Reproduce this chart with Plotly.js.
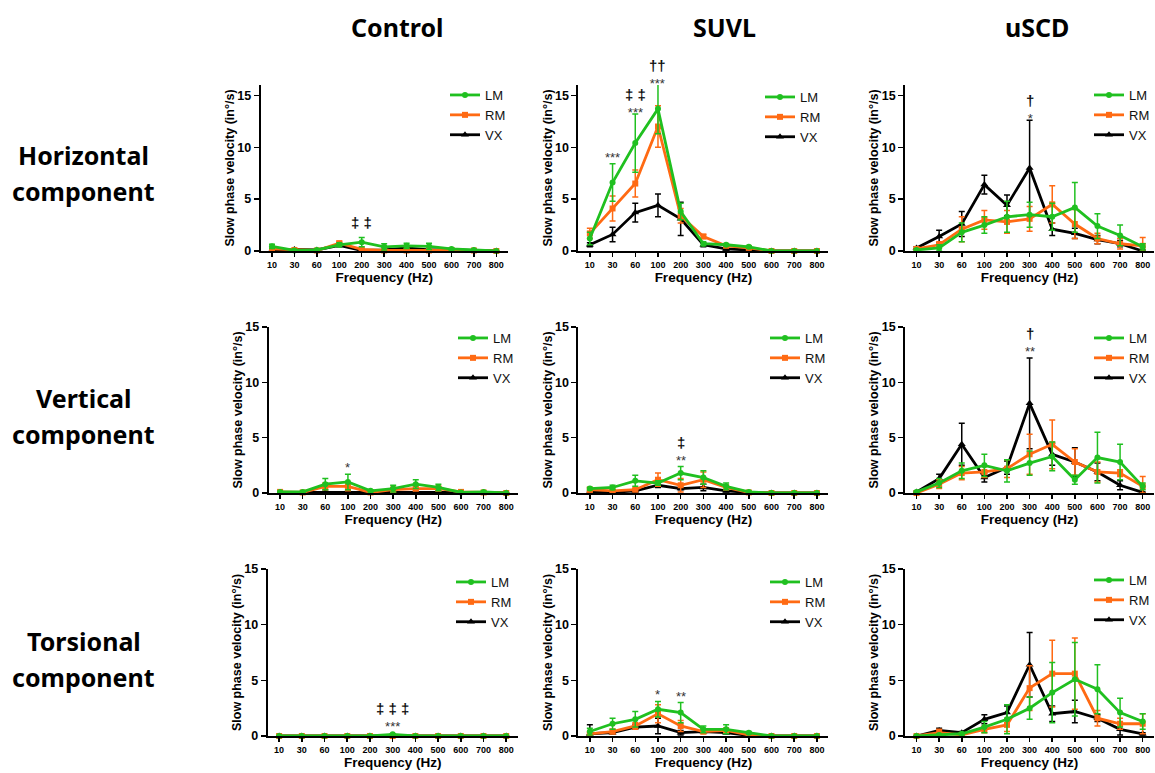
<!DOCTYPE html>
<html>
<head>
<meta charset="utf-8">
<script src="https://cdn.plot.ly/plotly-3.0.1.min.js"></script>
<style>html,body{margin:0;padding:0;background:#fff;} #chart{width:1155px;height:773px;}</style>
</head>
<body>
<div id="chart"></div>
<script>
// ---------------- DATA ----------------
const categories = ['10','30','60','100','200','300','400','500','600','700','800'];
const seriesNames = ['LM','RM','VX'];
const columnTitles = ['Control','SUVL','uSCD'];
const rowTitles = [['Horizontal','component'],['Vertical','component'],['Torsional','component']];

// Control – horizontal
const ctrlH_LM     = [0.45,0.05,0.1,0.6,0.85,0.4,0.5,0.45,0.2,0.1,0.0];
const ctrlH_LM_err = [0.2,0.05,0.1,0.2,0.45,0.3,0.25,0.3,0.1,0.05,0.0];
const ctrlH_RM     = [0.2,0.1,0.05,0.75,0.15,0.05,0.05,0.05,0.1,0.05,0.0];
const ctrlH_RM_err = [0.1,0.05,0.05,0.2,0.1,0.05,0.05,0.05,0.05,0.05,0.0];
const ctrlH_VX     = [0.1,0.15,0.1,0.55,0.05,0.1,0.3,0.1,0.1,0.05,0.0];
const ctrlH_VX_err = [0.05,0.05,0.05,0.15,0.05,0.05,0.1,0.05,0.05,0.05,0.0];
// SUVL – horizontal
const suvlH_LM     = [1.2,6.6,10.4,13.7,3.8,0.7,0.6,0.4,0,0,0];
const suvlH_LM_err = [0.6,1.8,2.8,2.4,0.8,0.2,0.1,0.1,0,0,0];
const suvlH_RM     = [1.7,4.1,6.5,12.0,3.4,1.4,0.5,0.3,0,0,0];
const suvlH_RM_err = [0.5,1.2,1.3,2.0,0.7,0.2,0.1,0.1,0,0,0];
const suvlH_VX     = [0.6,1.6,3.7,4.4,3.1,0.6,0.2,0.1,0,0,0];
const suvlH_VX_err = [0.2,0.7,0.9,1.1,1.6,0.2,0.1,0.05,0,0,0];
// uSCD – horizontal
const uscdH_LM     = [0.1,0.3,1.8,2.5,3.3,3.5,3.3,4.2,2.4,1.5,0.4];
const uscdH_LM_err = [0.1,0.3,0.9,0.8,1.5,1.2,1.3,2.4,1.2,1.0,0.3];
const uscdH_RM     = [0.2,0.6,2.1,3.0,2.8,3.1,4.5,2.6,1.2,0.7,0.5];
const uscdH_RM_err = [0.1,0.3,1.2,0.9,1.1,1.2,1.8,1.4,0.5,0.5,0.8];
const uscdH_VX     = [0.3,1.4,2.6,6.4,4.4,8.0,2.1,1.7,1.1,0.7,0.0];
const uscdH_VX_err = [0.1,0.6,1.2,0.9,1.0,4.6,0.6,0.5,0.4,0.3,0.1];
// Control – vertical
const ctrlV_LM     = [0.1,0.1,0.8,1.0,0.2,0.4,0.8,0.5,0.05,0.1,0];
const ctrlV_LM_err = [0.05,0.05,0.5,0.7,0.1,0.3,0.4,0.3,0.05,0.05,0];
const ctrlV_RM     = [0.1,0.05,0.6,0.6,0.05,0.3,0.4,0.4,0.1,0.05,0];
const ctrlV_RM_err = [0.05,0.05,0.3,0.4,0.05,0.2,0.2,0.2,0.05,0.05,0];
const ctrlV_VX     = [0.05,0.05,0.05,0.1,0.05,0.05,0.05,0.05,0.05,0.05,0];
const ctrlV_VX_err = [0.05,0.05,0.1,0.1,0.05,0.05,0.05,0.05,0.05,0.05,0];
// SUVL – vertical
const suvlV_LM     = [0.4,0.5,1.1,0.9,1.8,1.4,0.6,0.1,0,0,0];
const suvlV_LM_err = [0.1,0.2,0.5,0.2,0.6,0.6,0.3,0.05,0,0,0];
const suvlV_RM     = [0.3,0.2,0.3,1.2,0.7,1.2,0.5,0.05,0,0,0];
const suvlV_RM_err = [0.2,0.1,0.1,0.6,0.6,0.7,0.2,0.05,0,0,0];
const suvlV_VX     = [0.1,0.05,0.2,0.7,0.4,0.5,0.2,0.05,0,0,0];
const suvlV_VX_err = [0.05,0.05,0.1,0.2,0.1,0.3,0.1,0.05,0,0,0];
// uSCD – vertical
const uscdV_LM     = [0.1,0.9,2.0,2.5,2.0,2.7,3.3,1.2,3.2,2.8,0.6];
const uscdV_LM_err = [0.05,0.4,0.7,1.0,1.0,1.1,1.3,0.4,2.3,1.6,0.3];
const uscdV_RM     = [0.0,0.8,1.8,1.9,2.2,3.5,4.4,2.8,1.9,1.8,0.6];
const uscdV_RM_err = [0.05,0.4,0.6,0.5,0.8,1.8,2.2,1.2,0.9,0.3,0.9];
const uscdV_VX     = [0.1,1.3,4.4,1.4,2.3,8.1,3.5,2.8,1.9,0.7,0.05];
const uscdV_VX_err = [0.05,0.4,1.9,0.4,0.6,4.1,1.0,1.3,0.8,0.4,0.05];
// Control – torsional
const ctrlT_LM     = [0,0,0,0,0,0.15,0,0,0,0,0];
const ctrlT_LM_err = [0,0,0,0,0,0.05,0,0,0,0,0];
const ctrlT_RM     = [0,0,0,0,0,0,0,0,0,0,0];
const ctrlT_RM_err = [0,0,0,0,0,0,0,0,0,0,0];
const ctrlT_VX     = [0,0,0,0,0,0,0,0,0,0,0];
const ctrlT_VX_err = [0,0,0,0,0,0,0,0,0,0,0];
// SUVL – torsional
const suvlT_LM     = [0.4,1.1,1.5,2.4,2.1,0.6,0.6,0.3,0,0,0];
const suvlT_LM_err = [0.3,0.5,0.7,0.7,0.9,0.3,0.4,0.1,0,0,0];
const suvlT_RM     = [0.2,0.4,0.9,2.0,0.9,0.4,0.5,0.1,0,0,0];
const suvlT_RM_err = [0.1,0.2,0.3,0.8,0.5,0.2,0.2,0.05,0,0,0];
const suvlT_VX     = [0.2,0.3,0.8,0.9,0.3,0.4,0.3,0.05,0,0,0];
const suvlT_VX_err = [0.8,0.1,0.2,0.7,0.2,0.1,0.1,0.05,0,0,0];
// uSCD – torsional
const uscdT_LM     = [0,0.1,0.2,0.8,1.5,2.5,3.9,5.1,4.2,2.1,1.3];
const uscdT_LM_err = [0.05,0.1,0.1,0.5,1.3,1.0,2.7,3.3,2.2,1.3,0.7];
const uscdT_RM     = [0,0.3,0.1,0.6,1.0,4.3,5.6,5.6,1.6,1.1,1.1];
const uscdT_RM_err = [0.05,0.3,0.1,0.3,0.6,2.0,3.0,3.2,0.7,0.5,0.9];
const uscdT_VX     = [0,0.5,0.3,1.5,2.1,6.4,2.0,2.2,1.6,0.6,0.2];
const uscdT_VX_err = [0.05,0.2,0.1,0.4,0.6,2.9,0.7,1.0,0.3,0.5,0.1];

// significance labels: panel index, category, y value (centre of label), dagger marks, star marks
const sigPanel  = [0,1,1,1,2,3,4,5,6,7,7];
const sigCat    = ['200','30','60','100','300','100','200','300','300','100','200'];
const sigY      = [2.7,9.1,14.3,17.1,13.7,2.35,3.8,13.6,1.7,3.8,3.6];
const sigDagger = ['‡ ‡','','‡ ‡','††','†','','‡','†','‡ ‡ ‡','',''];
const sigStars  = ['','***','***','***','*','*','**','**','***','*','**'];

// ---------------- LAYOUT CONFIG ----------------
const W = 1155, H = 773;
const panelData = [
  [ctrlH_LM,ctrlH_LM_err,ctrlH_RM,ctrlH_RM_err,ctrlH_VX,ctrlH_VX_err],
  [suvlH_LM,suvlH_LM_err,suvlH_RM,suvlH_RM_err,suvlH_VX,suvlH_VX_err],
  [uscdH_LM,uscdH_LM_err,uscdH_RM,uscdH_RM_err,uscdH_VX,uscdH_VX_err],
  [ctrlV_LM,ctrlV_LM_err,ctrlV_RM,ctrlV_RM_err,ctrlV_VX,ctrlV_VX_err],
  [suvlV_LM,suvlV_LM_err,suvlV_RM,suvlV_RM_err,suvlV_VX,suvlV_VX_err],
  [uscdV_LM,uscdV_LM_err,uscdV_RM,uscdV_RM_err,uscdV_VX,uscdV_VX_err],
  [ctrlT_LM,ctrlT_LM_err,ctrlT_RM,ctrlT_RM_err,ctrlT_VX,ctrlT_VX_err],
  [suvlT_LM,suvlT_LM_err,suvlT_RM,suvlT_RM_err,suvlT_VX,suvlT_VX_err],
  [uscdT_LM,uscdT_LM_err,uscdT_RM,uscdT_RM_err,uscdT_VX,uscdT_VX_err]
];
// pixel boxes: [left, right, top, bottom, ymax, legendX, legendTop]
const boxes = [
  [261,508, 85,251,16, 445, 80],
  [579,829, 85,251,16, 760, 82],
  [906,1155,85,251,16, 1090,80],
  [269,518,327,493,15, 453,323],
  [579,829,327,493,15, 765,323],
  [906,1155,327,493,15,1090,323],
  [268,518,569,736,15, 451,567],
  [579,829,569,736,15, 765,567],
  [906,1155,569,736,15,1090,565]
];
const colors = {LM:'#20c020', RM:'#ff6a13', VX:'#000000'};
const symbols = {LM:'circle', RM:'square', VX:'triangle-up'};
const AX = 'Liberation Sans, Arial, sans-serif';
const TT = 'Noto Sans, sans-serif';

const traces = [];
const layout = {
  width: W, height: H,
  margin: {l:0, r:0, t:0, b:0},
  paper_bgcolor: '#fff', plot_bgcolor: 'rgba(0,0,0,0)',
  showlegend: true,
  annotations: []
};

boxes.forEach((b, i) => {
  const n = i + 1;
  const sfx = n === 1 ? '' : String(n);
  const [L, R, T, B, ymax, lx, ly] = b;
  layout['xaxis' + sfx] = {
    type: 'category', categoryorder: 'array', categoryarray: categories,
    domain: [L / W, R / W], range: [-0.5, 10.5], anchor: 'y' + sfx,
    showline: true, linecolor: '#000', linewidth: 2,
    ticks: 'outside', ticklen: 4, tickwidth: 1.5, tickcolor: '#000',
    showgrid: false, zeroline: false,
    tickfont: {family: AX, size: 9, weight: 'bold', color: '#000'},
    title: {text: 'Frequency (Hz)', standoff: 4, font: {family: AX, size: 13.5, weight: 'bold', color: '#000'}},
    fixedrange: true
  };
  layout['yaxis' + sfx] = {
    domain: [1 - B / H, 1 - T / H], range: [0, ymax], anchor: 'x' + sfx,
    tickvals: [0, 5, 10, 15],
    showline: true, linecolor: '#000', linewidth: 2,
    ticks: 'outside', ticklen: 5, tickwidth: 1.5, tickcolor: '#000',
    showgrid: false, zeroline: false,
    tickfont: {family: AX, size: 12.5, weight: 'bold', color: '#000'},
    title: {text: 'Slow phase velocity (in°/s)', standoff: 0, font: {family: AX, size: 12.5, weight: 'bold', color: '#000'}},
    fixedrange: true
  };
  const lg = 'legend' + sfx;
  layout[lg] = {
    x: lx / W, y: 1 - ly / H, xanchor: 'left', yanchor: 'top',
    traceorder: 'reversed', bgcolor: 'rgba(0,0,0,0)', borderwidth: 0,
    font: {family: AX, size: 13, color: '#111'}, tracegroupgap: 0, itemwidth: 30
  };
  const d = panelData[i];
  const series = {LM: [d[0], d[1]], RM: [d[2], d[3]], VX: [d[4], d[5]]};
  ['VX', 'RM', 'LM'].forEach(s => {
    const y = series[s][0], e = series[s][1];
    traces.push({
      type: 'scatter', mode: 'lines+markers', name: s,
      x: categories, y: y,
      xaxis: 'x' + sfx, yaxis: 'y' + sfx, legend: lg,
      cliponaxis: false,
      line: {color: colors[s], width: 2.8},
      marker: {symbol: symbols[s], size: s === 'VX' ? 7 : 6, color: colors[s]},
      error_y: {type: 'data', symmetric: false, array: e,
        arrayminus: e.map((v, k) => Math.min(v, y[k])),
        color: colors[s], thickness: 1.5, width: 3},
      hoverinfo: 'skip'
    });
  });
});

// significance annotations (category index on the category axis; values above the
// axis range are anchored at the range top and shifted up in pixels)
sigPanel.forEach((p, k) => {
  const n = p + 1;
  const sfx = n === 1 ? '' : String(n);
  const [L, R, T, B, ymax] = boxes[p];
  const pxPerUnit = (B - T) / ymax;
  const yv = Math.min(sigY[k], ymax * 0.98);
  const parts = [];
  if (sigDagger[k]) parts.push('<span style="font-size:15px"><b>' + sigDagger[k] + '</b></span>');
  if (sigStars[k]) parts.push('<span style="color:#333333">' + sigStars[k] + '</span>');
  layout.annotations.push({
    xref: 'x' + sfx, yref: 'y' + sfx, x: categories.indexOf(sigCat[k]), y: yv,
    yshift: (sigY[k] - yv) * pxPerUnit - (sigDagger[k] ? 0 : 1),
    text: parts.join('<br>'), showarrow: false, xanchor: 'center', yanchor: 'middle',
    font: {family: AX, size: 13, color: '#111'}
  });
});

// column titles
const colX = [398, 725, 1038];
columnTitles.forEach((t, c) => {
  layout.annotations.push({xref: 'paper', yref: 'paper', x: colX[c] / W, y: 1 - 27 / H,
    text: t, showarrow: false, xanchor: 'center', yanchor: 'middle',
    font: {family: TT, size: 25, weight: 'bold', color: '#000'}});
});
// row titles
const rowY = [[155, 191], [398, 434], [641, 677]];
rowTitles.forEach((lines, r) => {
  lines.forEach((t, j) => {
    layout.annotations.push({xref: 'paper', yref: 'paper', x: 84 / W, y: 1 - rowY[r][j] / H,
      text: t, showarrow: false, xanchor: 'center', yanchor: 'middle',
      font: {family: TT, size: 25, weight: 'bold', color: '#000'}});
  });
});

Plotly.newPlot('chart', traces, layout, {staticPlot: true, displayModeBar: false});
</script>
</body>
</html>
